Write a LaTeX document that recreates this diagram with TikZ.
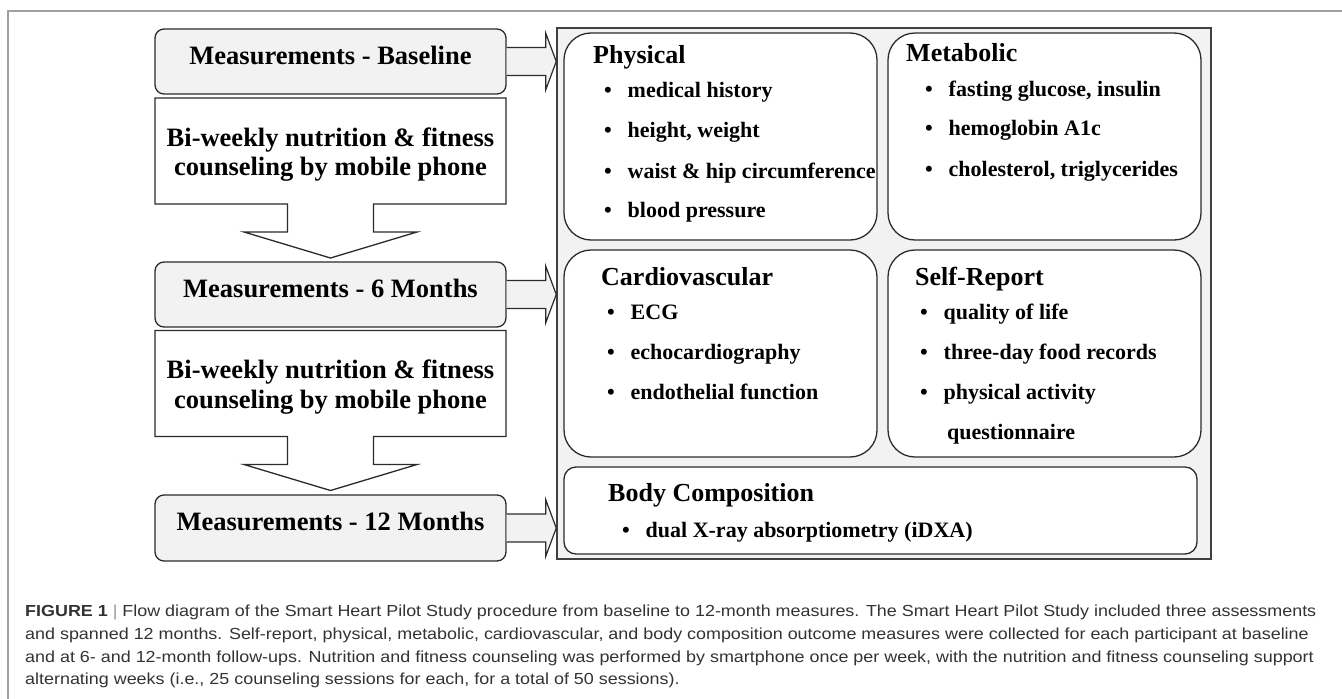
\documentclass[tikz,border=0pt]{standalone}
\usepackage{fontspec}
\setmainfont{Liberation Serif}
\newfontfamily\capfont[FakeStretch=1.12]{Liberation Sans}
\usetikzlibrary{calc}
\definecolor{boxfill}{HTML}{F2F2F2}
\definecolor{lin}{HTML}{2B2B2B}
\definecolor{framegray}{HTML}{A0A0A0}
\definecolor{captxt}{HTML}{333333}
\newcommand{\bul}[1]{\makebox[23.5pt][l]{\textbullet}#1}
\tikzset{
  measbox/.style={draw=lin, line width=1.3pt, fill=boxfill, rounded corners=9pt,
    minimum width=351pt, minimum height=65pt, inner sep=0pt},
  meastext/.style={font=\fontsize{26.5}{30}\selectfont\bfseries, anchor=base, inner sep=0pt},
  counsel/.style={draw=lin, line width=1.3pt, fill=white},
  blockarr/.style={draw=lin, line width=1.2pt, fill=boxfill},
  framebox/.style={draw=lin!90, line width=1.5pt, fill=boxfill, inner sep=0pt},
  catbox/.style={draw=lin, line width=1.3pt, fill=white, rounded corners=27pt,
    minimum width=313pt, minimum height=207pt, inner sep=0pt},
  cattitle/.style={font=\fontsize{26}{30}\selectfont\bfseries, anchor=base west, inner sep=0pt},
  catitem/.style={font=\fontsize{22}{26}\selectfont\bfseries, anchor=base west, inner sep=0pt},
  captext/.style={font=\capfont\fontsize{16}{20}\selectfont, text=captxt, anchor=base west, inner sep=0pt}
}
\begin{document}
\begin{tikzpicture}[x=1pt,y=-1pt]
\useasboundingbox (0,0) rectangle (1342,699);
\fill[white] (0,0) rectangle (1342,699);
\draw[framegray, line width=1.5pt] (1342,11) -- (8,11) -- (8,699);

% big frame and category boxes
\node[framebox, minimum width=654pt, minimum height=531pt] (frame) at (884,293.5) {};
\node[catbox] (phys) at (720.5,136.5) {};
\node[catbox] (meta) at (1044.5,136.5) {};
\node[catbox] (card) at (720.5,353.5) {};
\node[catbox] (self) at (1044.5,353.5) {};
\node[catbox, rounded corners=12pt, minimum width=633pt, minimum height=87pt] (body) at (880.5,510.5) {};

% category texts
\node[cattitle] (physT) at (593,63) {Physical};
\node[catitem] (p1) at (604,97) {\bul{medical history}};
\node[catitem] (p2) at (604,137) {\bul{height, weight}};
\node[catitem] (p3) at (604,178) {\bul{waist \& hip circumference}};
\node[catitem] (p4) at (604,217) {\bul{blood pressure}};

\node[cattitle] (metaT) at (906,61) {Metabolic};
\node[catitem] (m1) at (925,96) {\bul{fasting glucose, insulin}};
\node[catitem] (m2) at (925,135) {\bul{hemoglobin A1c}};
\node[catitem] (m3) at (925,176) {\bul{cholesterol, triglycerides}};

\node[cattitle] (cardT) at (601,285) {Cardiovascular};
\node[catitem] (c1) at (607,319) {\bul{ECG}};
\node[catitem] (c2) at (607,359) {\bul{echocardiography}};
\node[catitem] (c3) at (607,399) {\bul{endothelial function}};

\node[cattitle] (selfT) at (915,285) {Self-Report};
\node[catitem] (s1) at (920,319) {\bul{quality of life}};
\node[catitem] (s2) at (920,359) {\bul{three-day food records}};
\node[catitem] (s3) at (920,399) {\bul{physical activity}};
\node[catitem] (s4) at (947,439) {questionnaire};

\node[cattitle] (bodyT) at (608,501) {Body Composition};
\node[catitem] (b1) at (622,537) {\bul{dual X-ray absorptiometry (iDXA)}};

% measurement boxes
\node[measbox] (mb0) at (330.5,61.5) {};
\node[meastext] (mt0) at (330.5,64) {Measurements - Baseline};
\node[measbox] (mb6) at (330.5,294.5) {};
\node[meastext] (mt6) at (330.5,297) {Measurements - 6 Months};
\node[measbox, minimum height=66pt] (mb12) at (330.5,528) {};
\node[meastext] (mt12) at (330.5,530) {Measurements - 12 Months};

% counseling block arrows
\draw[counsel] (155,98) -- (506,98) -- (506,204) -- (373.5,204) -- (373.5,232) -- (417,232)
  -- (330.5,258) -- (244,232) -- (287.5,232) -- (287.5,204) -- (155,204) -- cycle;
\node[meastext] (cs1a) at (330.5,146) {Bi-weekly nutrition \& fitness};
\node[meastext] (cs1b) at (330.5,175) {counseling by mobile phone};
\begin{scope}[yshift=-232.5pt]
\draw[counsel] (155,98) -- (506,98) -- (506,204) -- (373.5,204) -- (373.5,232) -- (417,232)
  -- (330.5,258) -- (244,232) -- (287.5,232) -- (287.5,204) -- (155,204) -- cycle;
\end{scope}
\node[meastext] (cs2a) at (330.5,378) {Bi-weekly nutrition \& fitness};
\node[meastext] (cs2b) at (330.5,408) {counseling by mobile phone};

% arrows from measurement boxes to the frame
\foreach \b in {mb0,mb6,mb12}{
  \filldraw[blockarr] ($(\b.east)+(0,-14)$) -- ++(39,0) -- ++(0,-14.5)
    -- (frame.west |- \b.east)
    -- ($(\b.east)+(39,28.5)$) -- ++(0,-14.5) -- ($(\b.east)+(0,14)$);
}

% caption
\node[captext] (cap1) at (25,616) {\textbf{FIGURE 1} {\color{gray!80}|} Flow diagram of the Smart Heart Pilot Study procedure from baseline to 12-month measures. The Smart Heart Pilot Study included three assessments};
\node[captext] (cap2) at (25,639) {and spanned 12 months. Self-report, physical, metabolic, cardiovascular, and body composition outcome measures were collected for each participant at baseline};
\node[captext] (cap3) at (25,662) {and at 6- and 12-month follow-ups. Nutrition and fitness counseling was performed by smartphone once per week, with the nutrition and fitness counseling support};
\node[captext] (cap4) at (25,684) {alternating weeks (i.e., 25 counseling sessions for each, for a total of 50 sessions).};
\end{tikzpicture}
\end{document}
